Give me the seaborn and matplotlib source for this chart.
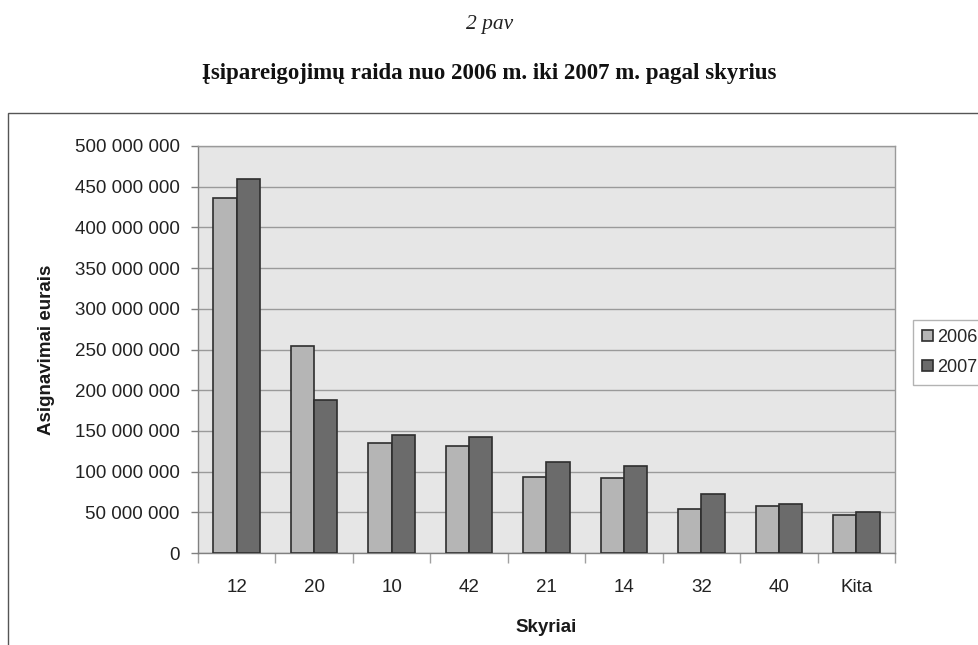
"""Commitments by chapter, 2006 vs 2007 (grouped bar chart)."""

import matplotlib

matplotlib.use("Agg")

import matplotlib.pyplot as plt
import matplotlib.ticker as mticker
import numpy as np
import pandas as pd
import seaborn as sns
from matplotlib.patches import Rectangle

chapters = ["12", "20", "10", "42", "21", "14", "32", "40", "Kita"]
values_2006 = [436e6, 254e6, 135e6, 131e6, 93e6, 92e6, 54e6, 58e6, 47e6]
values_2007 = [459e6, 188e6, 145e6, 142e6, 112e6, 107e6, 72e6, 60e6, 50e6]
years = ["2006", "2007"]

frame = pd.DataFrame(
    {
        "Skyriai": chapters * 2,
        "Metai": [years[0]] * len(chapters) + [years[1]] * len(chapters),
        "Suma": values_2006 + values_2007,
    }
)

sns.set_theme(style="white")
plt.rcParams["font.family"] = ["Liberation Sans", "DejaVu Sans"]

figure = plt.figure(figsize=(9.79, 6.45), dpi=100)
axis = figure.add_axes([198 / 979, 1 - 553 / 645, (895 - 198) / 979, (553 - 146) / 645])
axis.set_facecolor("#e6e6e6")

sns.barplot(
    data=frame,
    x="Skyriai",
    y="Suma",
    hue="Metai",
    palette=["#b5b5b5", "#6b6b6b"],
    width=0.6,
    gap=0,
    edgecolor="#2e2e2e",
    linewidth=1.2,
    saturation=1,
    errorbar=None,
    ax=axis,
    legend=True,
    zorder=3,
)

axis.set_ylim(0, 500e6)
axis.set_xlim(-0.5, len(chapters) - 0.5)
axis.yaxis.set_major_locator(mticker.MultipleLocator(50e6))
axis.yaxis.set_major_formatter(
    mticker.FuncFormatter(lambda v, _: f"{int(v):,}".replace(",", " "))
)
axis.grid(axis="y", color="#9a9a9a", linewidth=1.0, zorder=1)
axis.set_axisbelow(True)

for side in ("top", "right", "left", "bottom"):
    axis.spines[side].set_visible(True)
    axis.spines[side].set_color("#9a9a9a")
    axis.spines[side].set_linewidth(1.0)
axis.spines["left"].set_color("#808080")
axis.spines["bottom"].set_color("#808080")

axis.tick_params(axis="y", which="major", direction="out", length=5, width=1,
                 color="#808080", labelsize=13.5, pad=8, left=True)
axis.set_xticks(np.arange(len(chapters)))
axis.set_xticklabels(chapters)
axis.tick_params(axis="x", which="major", length=0, labelsize=13.5, pad=19)
axis.set_xticks(np.arange(len(chapters) + 1) - 0.5, minor=True)
axis.tick_params(axis="x", which="minor", direction="out", length=7, width=1,
                 color="#a0a0a0", bottom=True)
for label in axis.get_xticklabels() + axis.get_yticklabels():
    label.set_color("#222222")

axis.set_xlabel("Skyriai", fontsize=13.5, fontweight="bold", labelpad=16, color="#1a1a1a")
axis.set_ylabel("Asignavimai eurais", fontsize=13.5, fontweight="bold", labelpad=14, color="#1a1a1a")

handles, labels = axis.get_legend_handles_labels()
axis.get_legend().remove()
figure.legend(
    handles,
    labels,
    loc="upper left",
    bbox_to_anchor=(913 / 979, 1 - 320 / 645),
    frameon=True,
    fancybox=False,
    edgecolor="#a0a0a0",
    fontsize=13,
    handlelength=0.6,
    handleheight=0.6,
    handletextpad=0.25,
    labelspacing=0.7,
    borderpad=0.5,
    borderaxespad=0,
)

# outer chart frame (runs off the right and bottom of the page)
figure.patches.append(
    Rectangle((8 / 979, -0.05), 1.1, 1 - 113 / 645 + 0.05, transform=figure.transFigure,
              fill=False, edgecolor="#555555", linewidth=1.0, clip_on=False)
)

figure.text(0.5, 1 - 25 / 645, "2 pav", ha="center", va="center", fontsize=15.5,
            fontstyle="italic", family=["Liberation Serif", "DejaVu Serif"], color="#222222")
figure.text(0.5, 1 - 74 / 645, "Įsipareigojimų raida nuo 2006 m. iki 2007 m. pagal skyrius",
            ha="center", va="center", fontsize=16.5, fontweight="bold",
            family=["Liberation Serif", "DejaVu Serif"], color="#111111")

figure.savefig("out.png", dpi=100)
plt.close(figure)
